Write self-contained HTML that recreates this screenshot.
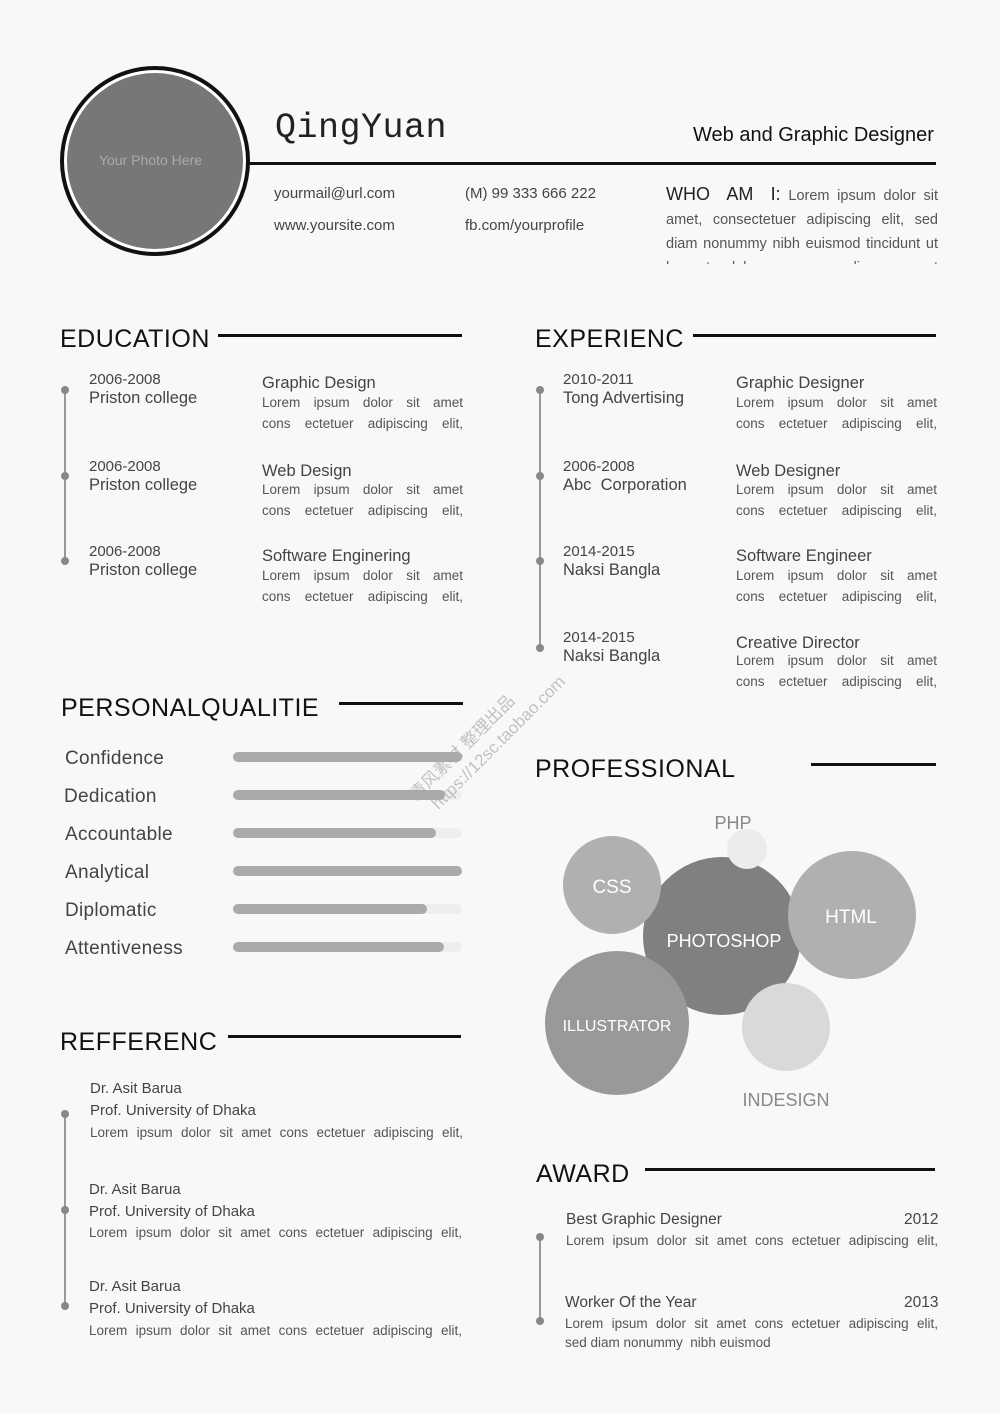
<!DOCTYPE html>
<html><head><meta charset="utf-8"><style>
*{margin:0;padding:0;box-sizing:border-box}
body{width:1000px;height:1414px;background:#f8f8f8;position:relative;overflow:hidden;font-family:"Liberation Sans","Noto Sans CJK SC",sans-serif;color:#444}
.a{position:absolute;white-space:nowrap}
.h{font-size:25px;color:#111;letter-spacing:0.5px}
.ln{position:absolute;height:3px;background:#111}
.d{font-size:15px;color:#444;line-height:18px}
.t{font-size:16px;color:#444}
.p{position:absolute;font-size:13.5px;color:#555;line-height:21px;text-align:justify;text-align-last:justify}
.dot{position:absolute;width:8px;height:8px;border-radius:50%;background:#888}
.vl{position:absolute;width:2px;background:#999}
.sk{font-size:19px;color:#444;letter-spacing:0.3px}
.tr{position:absolute;height:10px;border-radius:5px;background:#eee;left:233px;width:229px}
.fl{position:absolute;height:10px;border-radius:5px;background:#aaa;left:0;top:0}
</style></head><body>
<div style="position:absolute;left:60px;top:66px;width:190px;height:190px;border-radius:50%;border:4px solid #111;background:#fff"></div>
<div style="position:absolute;left:67px;top:73px;width:176px;height:176px;border-radius:50%;background:#777"></div>
<div class="a" style="left:99px;top:152px;font-size:14px;color:#aaa">Your Photo Here</div>
<div class="a" style="left:275px;top:108px;font-family:'Liberation Mono',monospace;font-size:35px;letter-spacing:0.5px;color:#222">QingYuan</div>
<div class="a" style="left:693px;top:124px;font-size:20px;color:#111">Web and Graphic Designer</div>
<div class="ln" style="left:248px;top:162px;width:688px"></div>
<div class="a" style="left:274px;top:185px;font-size:15px;color:#444">yourmail@url.com</div>
<div class="a" style="left:274px;top:217px;font-size:15px;color:#444">www.yoursite.com</div>
<div class="a" style="left:465px;top:185px;font-size:15px;color:#444">(M) 99 333 666 222</div>
<div class="a" style="left:465px;top:217px;font-size:15px;color:#444">fb.com/yourprofile</div>
<div style="position:absolute;left:666px;top:182px;width:272px;height:82px;overflow:hidden;font-size:14.5px;line-height:24px;color:#555;text-align:justify"><span style="font-size:18px;color:#222">WHO&nbsp; AM&nbsp; I:</span> Lorem ipsum dolor sit amet, consectetuer adipiscing elit, sed diam nonummy nibh euismod tincidunt ut laoreet dolore magna aliquam erat volutpat.</div>

<div class="a h" style="left:60px;top:325px">EDUCATION</div>
<div class="ln" style="left:218px;top:334px;width:244px"></div>
<div class="vl" style="left:64px;top:390px;height:172px"></div>
<div class="dot" style="left:61px;top:386px"></div><div class="dot" style="left:61px;top:472px"></div><div class="dot" style="left:61px;top:557px"></div>
<div class="a d" style="left:89px;top:371px">2006-2008<br><span style="font-size:16.5px">Priston college</span></div>
<div class="a d" style="left:89px;top:458px">2006-2008<br><span style="font-size:16.5px">Priston college</span></div>
<div class="a d" style="left:89px;top:543px">2006-2008<br><span style="font-size:16.5px">Priston college</span></div>
<div class="a t" style="left:262px;top:374px;font-size:16.5px">Graphic Design</div><div class="p" style="left:262px;top:392px;width:201px">Lorem ipsum dolor sit amet<br>cons ectetuer adipiscing elit,</div>
<div class="a t" style="left:262px;top:462px;font-size:16.5px">Web Design</div><div class="p" style="left:262px;top:479px;width:201px">Lorem ipsum dolor sit amet<br>cons ectetuer adipiscing elit,</div>
<div class="a t" style="left:262px;top:547px;font-size:16.5px">Software Enginering</div><div class="p" style="left:262px;top:565px;width:201px">Lorem ipsum dolor sit amet<br>cons ectetuer adipiscing elit,</div>

<div class="a h" style="left:535px;top:325px">EXPERIENC</div>
<div class="ln" style="left:693px;top:334px;width:243px"></div>
<div class="vl" style="left:539px;top:390px;height:258px"></div>
<div class="dot" style="left:536px;top:386px"></div><div class="dot" style="left:536px;top:472px"></div><div class="dot" style="left:536px;top:557px"></div><div class="dot" style="left:536px;top:644px"></div>
<div class="a d" style="left:563px;top:371px">2010-2011<br><span style="font-size:16.5px">Tong Advertising</span></div>
<div class="a d" style="left:563px;top:458px">2006-2008<br><span style="font-size:16.5px">Abc&nbsp; Corporation</span></div>
<div class="a d" style="left:563px;top:543px">2014-2015<br><span style="font-size:16.5px">Naksi Bangla</span></div>
<div class="a d" style="left:563px;top:629px">2014-2015<br><span style="font-size:16.5px">Naksi Bangla</span></div>
<div class="a t" style="left:736px;top:374px;font-size:16.5px">Graphic Designer</div><div class="p" style="left:736px;top:392px;width:201px">Lorem ipsum dolor sit amet<br>cons ectetuer adipiscing elit,</div>
<div class="a t" style="left:736px;top:462px;font-size:16.5px">Web Designer</div><div class="p" style="left:736px;top:479px;width:201px">Lorem ipsum dolor sit amet<br>cons ectetuer adipiscing elit,</div>
<div class="a t" style="left:736px;top:547px;font-size:16.5px">Software Engineer</div><div class="p" style="left:736px;top:565px;width:201px">Lorem ipsum dolor sit amet<br>cons ectetuer adipiscing elit,</div>
<div class="a t" style="left:736px;top:634px;font-size:16.5px">Creative Director</div><div class="p" style="left:736px;top:650px;width:201px">Lorem ipsum dolor sit amet<br>cons ectetuer adipiscing elit,</div>

<div class="a h" style="left:61px;top:694px">PERSONALQUALITIE</div>
<div class="ln" style="left:339px;top:702px;width:124px"></div>
<div class="a sk" style="left:65px;top:748px">Confidence</div>
<div class="a sk" style="left:64px;top:786px">Dedication</div>
<div class="a sk" style="left:65px;top:824px">Accountable</div>
<div class="a sk" style="left:65px;top:862px">Analytical</div>
<div class="a sk" style="left:65px;top:900px">Diplomatic</div>
<div class="a sk" style="left:65px;top:938px">Attentiveness</div>
<div class="tr" style="top:752px"><div class="fl" style="width:229px"></div></div>
<div class="tr" style="top:790px"><div class="fl" style="width:212px"></div></div>
<div class="tr" style="top:828px"><div class="fl" style="width:203px"></div></div>
<div class="tr" style="top:866px"><div class="fl" style="width:229px"></div></div>
<div class="tr" style="top:904px"><div class="fl" style="width:194px"></div></div>
<div class="tr" style="top:942px"><div class="fl" style="width:211px"></div></div>

<div class="a h" style="left:535px;top:755px">PROFESSIONAL</div>
<div class="ln" style="left:811px;top:763px;width:125px"></div>
<svg style="position:absolute;left:0;top:0" width="1000" height="1414">
<circle cx="722" cy="936" r="79" fill="#808080"/>
<circle cx="612" cy="885" r="49" fill="#b0b0b0"/>
<circle cx="747" cy="849" r="20" fill="#ececec"/>
<circle cx="852" cy="915" r="64" fill="#b0b0b0"/>
<circle cx="617" cy="1023" r="72" fill="#999"/>
<circle cx="786" cy="1027" r="44" fill="#d9d9d9"/>
<g font-family="Liberation Sans,sans-serif" text-anchor="middle">
<text x="733" y="829" font-size="18" fill="#888">PHP</text>
<text x="612" y="893" font-size="19" fill="#fff">CSS</text>
<text x="724" y="947" font-size="18" fill="#fff">PHOTOSHOP</text>
<text x="851" y="923" font-size="19" fill="#fff">HTML</text>
<text x="617" y="1031" font-size="16" fill="#fff">ILLUSTRATOR</text>
<text x="786" y="1106" font-size="18" fill="#888">INDESIGN</text>
</g>
</svg>

<div class="a h" style="left:60px;top:1028px">REFFERENC</div>
<div class="ln" style="left:228px;top:1035px;width:233px"></div>
<div class="vl" style="left:64px;top:1114px;height:192px"></div>
<div class="dot" style="left:61px;top:1110px"></div><div class="dot" style="left:61px;top:1206px"></div><div class="dot" style="left:61px;top:1302px"></div>
<div class="a" style="left:90px;top:1078px;font-size:15px;line-height:22px;color:#444">Dr. Asit Barua<br>Prof. University of Dhaka</div>
<div class="p" style="left:90px;top:1122px;width:373px">Lorem ipsum dolor sit amet cons ectetuer adipiscing elit,</div>
<div class="a" style="left:89px;top:1179px;font-size:15px;line-height:22px;color:#444">Dr. Asit Barua<br>Prof. University of Dhaka</div>
<div class="p" style="left:89px;top:1222px;width:373px">Lorem ipsum dolor sit amet cons ectetuer adipiscing elit,</div>
<div class="a" style="left:89px;top:1276px;font-size:15px;line-height:22px;color:#444">Dr. Asit Barua<br>Prof. University of Dhaka</div>
<div class="p" style="left:89px;top:1320px;width:373px">Lorem ipsum dolor sit amet cons ectetuer adipiscing elit,</div>

<div class="a h" style="left:536px;top:1160px">AWARD</div>
<div class="ln" style="left:645px;top:1168px;width:290px"></div>
<div class="vl" style="left:539px;top:1237px;height:84px"></div>
<div class="dot" style="left:536px;top:1233px"></div><div class="dot" style="left:536px;top:1317px"></div>
<div class="a t" style="left:566px;top:1211px;font-size:15.5px">Best Graphic Designer</div><div class="a t" style="left:904px;top:1211px;font-size:15.5px">2012</div>
<div class="p" style="left:566px;top:1230px;width:372px">Lorem ipsum dolor sit amet cons ectetuer adipiscing elit,</div>
<div class="a t" style="left:565px;top:1294px;font-size:15.5px">Worker Of the Year</div><div class="a t" style="left:904px;top:1294px;font-size:15.5px">2013</div>
<div class="p" style="left:565px;top:1313px;width:373px">Lorem ipsum dolor sit amet cons ectetuer adipiscing elit,</div>
<div class="a" style="left:565px;top:1335px;font-size:13.5px;color:#555">sed diam nonummy&nbsp; nibh euismod</div>

<div class="a" style="transform:rotate(-45deg);transform-origin:left top;font-size:17px;color:#aaa;opacity:.7;line-height:22px;top:790px;left:405px">清风素材 整理出品<br>&nbsp;&nbsp;https://12sc.taobao.com</div>
</body></html>
